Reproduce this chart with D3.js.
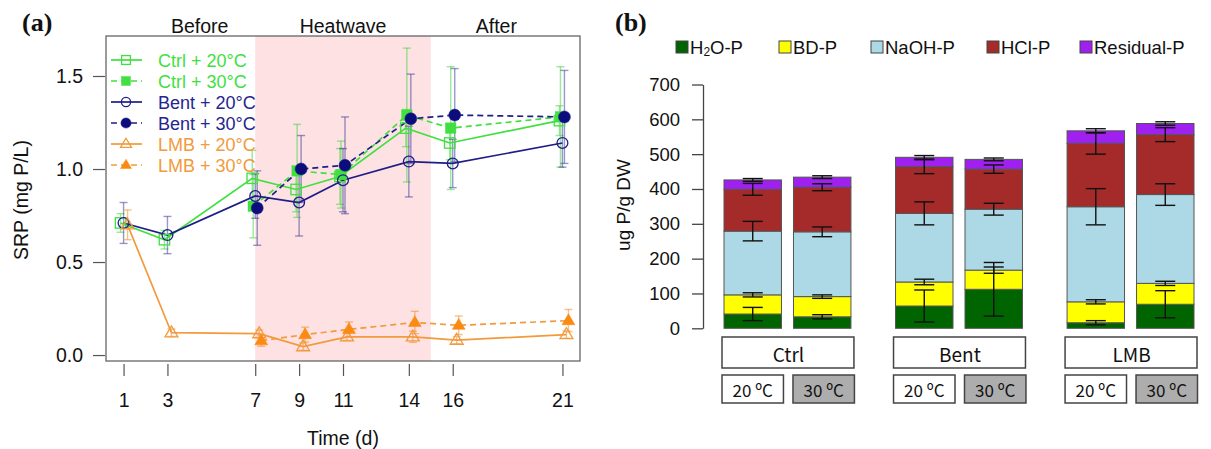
<!DOCTYPE html>
<html><head><meta charset="utf-8">
<script src="https://cdn.jsdelivr.net/npm/d3@7"></script>
<style>
body{margin:0;background:#fff}
svg{display:block}
text{font-family:"Liberation Sans",Arial,sans-serif}
</style>
</head><body>
<svg id="chart" width="1211" height="449"></svg>
<script>
// ---------- Panel (a) data ----------
const days = [1, 3, 7, 9, 11, 14, 16, 21];
const phaseLabels = ["Before", "Heatwave", "After"];
const yTicksA = [0, 0.5, 1.0, 1.5];
const ctrl20 = [0.71, 0.62, 0.95, 0.89, 0.96, 1.22, 1.14, 1.26];
const ctrl20Err = [0.05, 0.05, 0.15, 0.12, 0.15, 0.10, 0.09, 0.08];
const ctrl30 = [null, null, 0.80, 0.99, 0.97, 1.29, 1.22, 1.28];
const ctrl30Err = [null, null, 0.17, 0.25, 0.18, 0.36, 0.33, 0.27];
const bent20 = [0.71, 0.645, 0.855, 0.82, 0.94, 1.04, 1.03, 1.14];
const bent20Err = [0.11, 0.10, 0.12, 0.18, 0.17, 0.19, 0.13, 0.13];
const bent30 = [null, null, 0.79, 1.00, 1.02, 1.27, 1.29, 1.28];
const bent30Err = [null, null, 0.20, 0.18, 0.26, 0.24, 0.25, 0.25];
const lmb20 = [0.70, 0.12, 0.115, 0.045, 0.098, 0.098, 0.08, 0.11];
const lmb20Err = [0.08, 0.02, 0.02, 0.02, 0.02, 0.03, 0.02, 0.02];
const lmb30 = [null, null, 0.077, 0.11, 0.138, 0.175, 0.16, 0.185];
const lmb30Err = [null, null, 0.03, 0.04, 0.04, 0.06, 0.05, 0.06];
const seriesNames = ["Ctrl + 20°C", "Ctrl + 30°C", "Bent + 20°C", "Bent + 30°C", "LMB + 20°C", "LMB + 30°C"];

// ---------- Panel (b) data ----------
const groups = ["Ctrl", "Bent", "LMB"];
const temps = ["20 ºC", "30 ºC"];
const fractions = ["H2O-P", "BD-P", "NaOH-P", "HCl-P", "Residual-P"];
// order: Ctrl20, Ctrl30, Bent20, Bent30, LMB20, LMB30
const h2oP = [41, 33, 64, 112, 16, 69];
const bdP = [55, 58, 69, 55, 60, 60];
const naohP = [183, 186, 197, 175, 273, 255];
const hclP = [120, 128, 134, 115, 182, 172];
const residualP = [27, 29, 27, 28, 36, 32];
const h2oErr = [19, 6, 46, 77, 6, 39];
const bdErr = [6, 5, 8, 9, 6, 6];
const naohErr = [28, 14, 33, 17, 52, 31];
const hclErr = [17, 10, 20, 12, 31, 20];
const residualErr = [4, 4, 5, 4, 6, 5];
const yTicksB = [0, 100, 200, 300, 400, 500, 600, 700];

const svg = d3.select("#chart");

// ================= Panel (a) =================
const GREEN = "#3fe03f", NAVY = "#1e1e86", NAVYF = "#0c0c7c", ORANGE = "#f29a3c", ORANGEF = "#fb8a12";
const series = [
  {name: seriesNames[0], v: ctrl20, e: ctrl20Err, color: GREEN, mfill: "none", shape: "square", dash: null, err: "rgba(70,215,70,0.55)", dx: -3},
  {name: seriesNames[1], v: ctrl30, e: ctrl30Err, color: GREEN, mfill: GREEN, shape: "square", dash: "6,4", err: "rgba(70,215,70,0.55)", dx: -2},
  {name: seriesNames[2], v: bent20, e: bent20Err, color: NAVY, mfill: "none", shape: "circle", dash: null, err: "rgba(50,50,150,0.5)", dx: 0},
  {name: seriesNames[3], v: bent30, e: bent30Err, color: NAVY, mfill: NAVYF, shape: "circle", dash: "6,4", err: "rgba(50,50,150,0.5)", dx: 2},
  {name: seriesNames[4], v: lmb20, e: lmb20Err, color: ORANGE, mfill: "none", shape: "triangle", dash: null, err: "rgba(240,150,60,0.6)", dx: 4},
  {name: seriesNames[5], v: lmb30, e: lmb30Err, color: ORANGE, mfill: ORANGEF, shape: "triangle", dash: "6,4", err: "rgba(240,150,60,0.6)", dx: 6}
];

const xA = d3.scaleLinear().domain([0.2, 21.8]).range([106, 580]);
const yA = d3.scaleLinear().domain([-0.032, 1.715]).range([361, 36]);

// heatwave shading
svg.append("rect").attr("x", xA(7)).attr("y", yA.range()[1])
  .attr("width", xA(15) - xA(7)).attr("height", yA.range()[0] - yA.range()[1])
  .attr("fill", "#fde1e3");

// phase labels
const phaseX = [(xA(0.2) + xA(7)) / 2 + 19, (xA(7) + xA(15)) / 2, (xA(15) + xA(21.8)) / 2 - 9];
phaseLabels.forEach((t, i) => {
  svg.append("text").attr("x", phaseX[i]).attr("y", 26).attr("text-anchor", "middle")
    .attr("dominant-baseline", "central").attr("font-size", 19.5).attr("fill", "#111").text(t);
});

// error bars
const gA = svg.append("g");
series.forEach(s => {
  days.forEach((d, i) => {
    if (s.v[i] == null) return;
    const cx = xA(d) + s.dx, y1 = yA(s.v[i] - s.e[i]), y2 = yA(s.v[i] + s.e[i]);
    gA.append("line").attr("x1", cx).attr("x2", cx).attr("y1", y1).attr("y2", y2).attr("stroke", s.err).attr("stroke-width", 1.4);
    [y1, y2].forEach(yy => gA.append("line").attr("x1", cx - 4).attr("x2", cx + 4).attr("y1", yy).attr("y2", yy).attr("stroke", s.err).attr("stroke-width", 1.4));
  });
});

// lines
series.forEach(s => {
  const pts = days.map((d, i) => ({d, v: s.v[i]})).filter(p => p.v != null);
  const line = d3.line().x(p => xA(p.d) + s.dx).y(p => yA(p.v));
  gA.append("path").attr("d", line(pts)).attr("fill", "none").attr("stroke", s.color)
    .attr("stroke-width", 1.7).attr("stroke-dasharray", s.dash);
});

function marker(g, shape, cx, cy, color, fill, scale) {
  scale = scale || 1;
  if (shape === "square") {
    const h = 5.2 * scale;
    g.append("rect").attr("x", cx - h).attr("y", cy - h).attr("width", 2 * h).attr("height", 2 * h)
      .attr("fill", fill === "none" ? "none" : fill).attr("stroke", color).attr("stroke-width", fill === "none" ? 1.3 : 0.5);
  } else if (shape === "circle") {
    g.append("circle").attr("cx", cx).attr("cy", cy).attr("r", (fill === "none" ? 5.4 : 6) * scale)
      .attr("fill", fill === "none" ? "none" : fill).attr("stroke", color).attr("stroke-width", fill === "none" ? 1.3 : 0.5);
  } else {
    const r = 6.8 * scale;
    const p = [[cx, cy - r], [cx + r * 0.95, cy + r * 0.6], [cx - r * 0.95, cy + r * 0.6]];
    g.append("path").attr("d", "M" + p.map(q => q.join(",")).join("L") + "Z")
      .attr("fill", fill === "none" ? "none" : fill).attr("stroke", fill === "none" ? color : fill).attr("stroke-width", fill === "none" ? 1.3 : 0.5);
  }
}

series.forEach(s => {
  days.forEach((d, i) => {
    if (s.v[i] == null) return;
    marker(gA, s.shape, xA(d) + s.dx, yA(s.v[i]), s.color, s.mfill);
  });
});

// box
svg.append("rect").attr("x", 106).attr("y", 36).attr("width", 474).attr("height", 325)
  .attr("fill", "none").attr("stroke", "#666").attr("stroke-width", 1.3);

// axes
const axXA = svg.append("g").attr("transform", "translate(0,364)")
  .call(d3.axisBottom(xA).tickValues(days).tickSize(12).tickPadding(17).tickFormat(d3.format("d")));
axXA.select(".domain").remove();
axXA.selectAll("line").attr("stroke", "#555").attr("stroke-width", 1.2);
axXA.selectAll("text").attr("font-size", 19.5).attr("fill", "#111").style("font-family", "Liberation Sans, Arial, sans-serif");

const axYA = svg.append("g").attr("transform", "translate(105,0)")
  .call(d3.axisLeft(yA).tickValues(yTicksA).tickSize(12).tickPadding(10).tickFormat(d3.format(".1f")));
axYA.select(".domain").remove();
axYA.selectAll("line").attr("stroke", "#555").attr("stroke-width", 1.2);
axYA.selectAll("text").attr("font-size", 19.5).attr("fill", "#111").style("font-family", "Liberation Sans, Arial, sans-serif");

svg.append("text").attr("x", 343).attr("y", 438).attr("text-anchor", "middle").attr("dominant-baseline", "central")
  .attr("font-size", 19.5).attr("fill", "#111").text("Time (d)");
svg.append("text").attr("transform", "translate(21,200) rotate(-90)").attr("text-anchor", "middle")
  .attr("dominant-baseline", "central").attr("font-size", 19.5).attr("fill", "#111").text("SRP (mg P/L)");

// legend (a)
const legTextColor = [GREEN, GREEN, "#25258f", "#25258f", ORANGE, ORANGE];
series.forEach((s, i) => {
  const ly = 60 + i * 21;
  svg.append("line").attr("x1", 111).attr("x2", 142).attr("y1", ly).attr("y2", ly)
    .attr("stroke", s.color).attr("stroke-width", 1.7).attr("stroke-dasharray", s.dash);
  marker(svg, s.shape, 126, ly, s.color, s.mfill, 0.85);
  svg.append("text").attr("x", 158).attr("y", ly + 1).attr("dominant-baseline", "central")
    .attr("font-size", 18).attr("fill", legTextColor[i]).text(s.name);
});

svg.append("text").attr("x", 22).attr("y", 31).attr("font-size", 26).attr("font-weight", "bold")
  .style("font-family", "Liberation Serif, Times New Roman, serif").attr("fill", "#111").text("(a)");

// ================= Panel (b) =================
const fracValues = [h2oP, bdP, naohP, hclP, residualP];
const fracErrs = [h2oErr, bdErr, naohErr, hclErr, residualErr];
const fracColors = ["#006400", "#ffff00", "#add8e6", "#a52a2a", "#a020f0"];

const yB = d3.scaleLinear().domain([0, 700]).range([328.3, 84.5]);
const x0 = d3.scaleBand().domain(groups).range([724, 1194]).paddingInner(0.26).paddingOuter(0);
const x1 = d3.scaleBand().domain(temps).range([0, x0.bandwidth()]).paddingInner(0.173).paddingOuter(0);

const gB = svg.append("g");
groups.forEach((g, gi) => {
  temps.forEach((t, ti) => {
    const idx = gi * 2 + ti;
    const bx = x0(g) + x1(t), bw = x1.bandwidth();
    let cum = 0;
    fracValues.forEach((arr, fi) => {
      const v = arr[idx];
      gB.append("rect").attr("x", bx).attr("y", yB(cum + v)).attr("width", bw)
        .attr("height", yB(cum) - yB(cum + v)).attr("fill", fracColors[fi])
        .attr("stroke", "#555").attr("stroke-width", 1);
      cum += v;
    });
    cum = 0;
    fracValues.forEach((arr, fi) => {
      cum += arr[idx];
      const e = fracErrs[fi][idx], cx = bx + bw / 2;
      const ya = yB(cum - e), yb = yB(cum + e);
      gB.append("line").attr("x1", cx).attr("x2", cx).attr("y1", ya).attr("y2", yb).attr("stroke", "#111").attr("stroke-width", 1.4);
      [ya, yb].forEach(yy => gB.append("line").attr("x1", cx - 10).attr("x2", cx + 10).attr("y1", yy).attr("y2", yy).attr("stroke", "#111").attr("stroke-width", 1.4));
    });
  });
  svg.append("rect").attr("x", x0(g) - 2).attr("y", 337).attr("width", x0.bandwidth() + 5).attr("height", 31)
    .attr("fill", "#fff").attr("stroke", "#444").attr("stroke-width", 1.5);
  svg.append("text").attr("x", x0(g) + x0.bandwidth() / 2 + 1).attr("y", 353).attr("text-anchor", "middle")
    .attr("dominant-baseline", "central").attr("font-size", 19)
    .style("font-family", "Noto Sans CJK SC, Noto Sans, sans-serif")
    .attr("fill", "#111").text(g);
  temps.forEach((t, ti) => {
    const bx = x0(g) + x1(t) - 2 + ti * 1.5;
    svg.append("rect").attr("x", bx).attr("y", 375).attr("width", x1.bandwidth() + 4).attr("height", 28)
      .attr("fill", ti === 0 ? "#fff" : "#adadad").attr("stroke", "#444").attr("stroke-width", 1.5);
    svg.append("text").attr("x", bx + (x1.bandwidth() + 4) / 2).attr("y", 389.5).attr("text-anchor", "middle")
      .attr("dominant-baseline", "central").attr("font-size", 17)
      .style("font-family", "Noto Sans CJK SC, Noto Sans, sans-serif")
      .attr("fill", "#111").text(t);
  });
});

const axYB = svg.append("g").attr("transform", "translate(703,0)")
  .call(d3.axisLeft(yB).tickValues(yTicksB).tickSize(11).tickSizeOuter(0).tickPadding(12));
axYB.select(".domain").attr("stroke", "#444").attr("stroke-width", 1.3);
axYB.selectAll("line").attr("stroke", "#444").attr("stroke-width", 1.3);
axYB.selectAll("text").attr("font-size", 18.5).attr("fill", "#111").style("font-family", "Liberation Sans, Arial, sans-serif");

svg.append("text").attr("transform", "translate(623,205) rotate(-90)").attr("text-anchor", "middle")
  .attr("dominant-baseline", "central").attr("font-size", 19).attr("fill", "#111").text("ug P/g DW");

// legend (b)
const legX = [676, 779, 871, 987, 1080];
fractions.forEach((f, i) => {
  svg.append("rect").attr("x", legX[i]).attr("y", 41).attr("width", 12).attr("height", 12)
    .attr("fill", fracColors[i]).attr("stroke", "#444").attr("stroke-width", 1);
  const t = svg.append("text").attr("x", legX[i] + 14).attr("y", 47).attr("dominant-baseline", "central")
    .attr("font-size", 18.5).attr("fill", "#111");
  if (f === "H2O-P") {
    t.append("tspan").text("H");
    t.append("tspan").attr("font-size", 12).attr("dy", 5).text("2");
    t.append("tspan").attr("dy", -5).text("O-P");
  } else t.text(f);
});

svg.append("text").attr("x", 615).attr("y", 31).attr("font-size", 26).attr("font-weight", "bold")
  .style("font-family", "Liberation Serif, Times New Roman, serif").attr("fill", "#111").text("(b)");
</script>
</body></html>
